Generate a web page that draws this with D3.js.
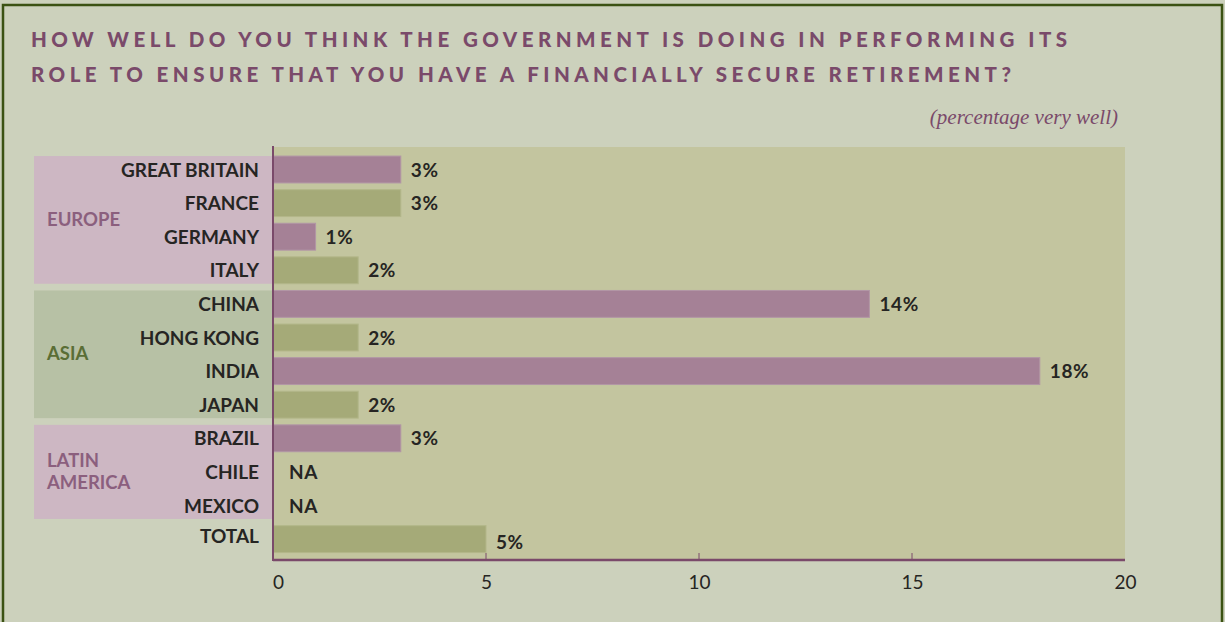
<!DOCTYPE html>
<html>
<head>
<meta charset="utf-8">
<script src="https://cdn.jsdelivr.net/npm/d3@7"></script>
<style>
  body { margin: 0; background: #ccd1bc; }
  svg { display: block; }
</style>
</head>
<body>
<svg></svg>
<script>
var W = 1225, H = 622;

// data
var countries = ["GREAT BRITAIN","FRANCE","GERMANY","ITALY","CHINA","HONG KONG","INDIA","JAPAN","BRAZIL","CHILE","MEXICO","TOTAL"];
var values = [3, 3, 1, 2, 14, 2, 18, 2, 3, null, null, 5];
var regionNames = [["EUROPE"], ["ASIA"], ["LATIN", "AMERICA"]];
var regionFirst = ["GREAT BRITAIN", "CHINA", "BRAZIL"];
var regionLast = ["ITALY", "JAPAN", "MEXICO"];
var xTicks = [0, 5, 10, 15, 20];
var titleLines = ["HOW WELL DO YOU THINK THE GOVERNMENT IS DOING IN PERFORMING ITS",
                  "ROLE TO ENSURE THAT YOU HAVE A FINANCIALLY SECURE RETIREMENT?"];

var purple = "#7a4a6a";
var pinkBar = "#a58196", greenBar = "#a5aa78";
var regionFill = ["#cdb7c3", "#b7c1a5", "#cdb7c3"];
var regionText = ["#8b5f7e", "#5a6e35", "#8b5f7e"];

var svg = d3.select("svg").attr("width", W).attr("height", H);

// frame
svg.append("rect").attr("x", 3).attr("y", 5).attr("width", 1219).attr("height", 640)
  .attr("fill", "#ccd1bc").attr("stroke", "#3b5213").attr("stroke-width", 2.5);

// titles
svg.selectAll(".title").data(titleLines).enter().append("text")
  .attr("class", "title")
  .attr("x", 31)
  .attr("y", (d, i) => 47 + i * 35)
  .attr("textLength", (d, i) => i == 0 ? 1036 : 980)
  .attr("lengthAdjust", "spacing")
  .style("font-family", "Lato")
  .style("font-weight", 900)
  .style("font-size", "20.5px")
  .attr("fill", purple)
  .text(d => d);

svg.append("text")
  .attr("x", 1118).attr("y", 124)
  .attr("text-anchor", "end")
  .style("font-family", "Liberation Serif")
  .style("font-style", "italic")
  .style("font-size", "21px")
  .attr("fill", purple)
  .text("(percentage very well)");

var x = d3.scaleLinear().domain([0, 20]).range([273, 1125]);
var y = d3.scaleBand().domain(countries).range([152.7, 555.9]).paddingInner(0.2).paddingOuter(0.1);

// plot background
svg.append("rect").attr("x", x(0)).attr("y", 147)
  .attr("width", x(20) - x(0)).attr("height", 560 - 147)
  .attr("fill", "#c3c59f");

// region boxes
var reg = svg.selectAll(".region").data(regionNames).enter().append("g").attr("class", "region");
reg.append("rect")
  .attr("x", 34)
  .attr("y", (d, i) => y(regionFirst[i]))
  .attr("width", x(0) - 34)
  .attr("height", (d, i) => y(regionLast[i]) + y.bandwidth() - y(regionFirst[i]))
  .attr("fill", (d, i) => regionFill[i]);
reg.each(function(d, i) {
  var cy = (y(regionFirst[i]) + y(regionLast[i]) + y.bandwidth()) / 2;
  var t = d3.select(this).append("text")
    .attr("x", 47)
    .style("font-family", "Lato").style("font-weight", 700).style("font-size", "18.5px")
    .attr("fill", regionText[i]);
  d.forEach(function(line, j) {
    t.append("tspan").attr("x", 47)
      .attr("y", cy + 6 + (j - (d.length - 1) / 2) * 22)
      .text(line);
  });
});

// bars
svg.selectAll(".bar").data(countries.filter((c, i) => values[i] != null)).enter().append("rect")
  .attr("class", "bar")
  .attr("x", x(0))
  .attr("y", d => y(d))
  .attr("width", d => x(values[countries.indexOf(d)]) - x(0))
  .attr("height", y.bandwidth())
  .attr("fill", d => countries.indexOf(d) % 2 == 0 ? pinkBar : greenBar)
  .attr("stroke", d => countries.indexOf(d) % 2 == 0 ? "#b296a6" : "#b3b78a")
  .attr("stroke-width", 1);

// country labels
svg.selectAll(".country").data(countries).enter().append("text")
  .attr("class", "country")
  .attr("x", 259)
  .attr("y", d => y(d) + y.bandwidth() / 2 + (d == "TOTAL" ? 4 : 7))
  .attr("text-anchor", "end")
  .style("font-family", "Lato").style("font-weight", 700).style("font-size", "19px")
  .attr("fill", "#262523")
  .text(d => d);

// value labels
svg.selectAll(".val").data(countries).enter().append("text")
  .attr("class", "val")
  .attr("x", (d, i) => values[i] == null ? 289 : x(values[i]) + 10)
  .attr("y", (d, i) => y(d) + y.bandwidth() / 2 + (d == "TOTAL" ? 10 : 7))
  .style("font-family", "Lato").style("font-weight", 700).style("font-size", "19px")
  .style("letter-spacing", "0.6px")
  .attr("fill", "#262523")
  .text((d, i) => values[i] == null ? "NA" : values[i] + "%");

// axes
var xAxis = d3.axisBottom(x).tickValues(xTicks).tickSize(0).tickPadding(16);
var ax = svg.append("g").attr("transform", "translate(0,560)").call(xAxis);
ax.select(".domain").remove();
ax.selectAll("text")
  .attr("dx", d => d == 0 ? 5 : 0)
  .style("font-family", "Lato").style("font-size", "19px").attr("fill", "#262523");

svg.selectAll(".itick").data(xTicks.slice(1, -1)).enter().append("line")
  .attr("x1", d => x(d)).attr("x2", d => x(d))
  .attr("y1", 553).attr("y2", 560)
  .attr("stroke", purple).attr("stroke-width", 1);

svg.append("line").attr("x1", x(0)).attr("x2", x(20)).attr("y1", 560).attr("y2", 560)
  .attr("stroke", purple).attr("stroke-width", 2.5);
svg.append("line").attr("x1", x(0)).attr("x2", x(0)).attr("y1", 146).attr("y2", 561)
  .attr("stroke", purple).attr("stroke-width", 2);
</script>
</body>
</html>
